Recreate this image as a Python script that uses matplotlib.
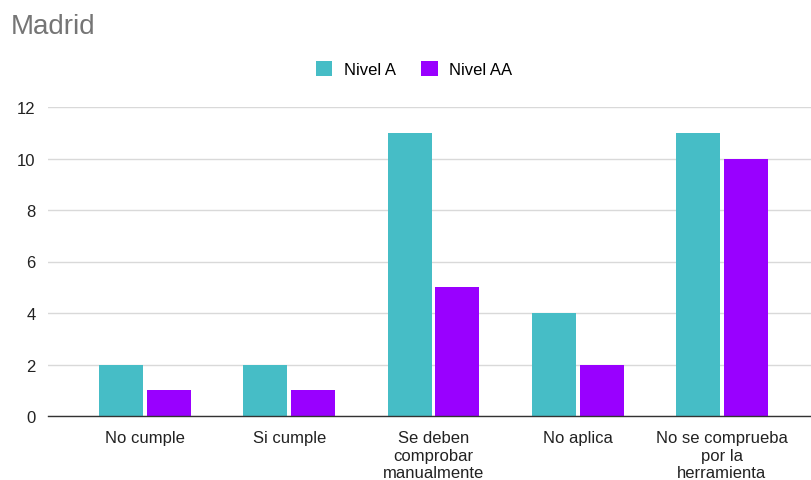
import matplotlib
matplotlib.use("Agg")
import matplotlib.pyplot as plt
import numpy as np

categories = ["No cumple", "Si cumple", "Se deben\ncomprobar\nmanualmente",
              "No aplica", "No se comprueba\npor la\nherramienta"]
nivel_a = [2, 2, 11, 4, 11]
nivel_aa = [1, 1, 5, 2, 10]
series_names = ["Nivel A", "Nivel AA"]
y_ticks = [0, 2, 4, 6, 8, 10, 12]

plt.rcParams['font.family'] = ['Liberation Sans', 'DejaVu Sans']

W, H = 812, 481
fig = plt.figure(figsize=(W / 100, H / 100), dpi=100)
ax = fig.add_axes([48 / W, (H - 417) / H, (812 - 48) / W, (417 - 108) / H])

x = np.arange(len(categories))
bw = 0.305
off = 0.165
teal = "#46BDC6"
purple = "#9900FF"
ax.bar(x - off, nivel_a, width=bw, color=teal, label=series_names[0], zorder=3)
ax.bar(x + off, nivel_aa, width=bw, color=purple, label=series_names[1], zorder=3)

ax.set_xlim(-0.672, 4.624)
ax.set_ylim(0, 12)
ax.set_yticks(y_ticks)
ax.set_yticklabels([str(t) for t in y_ticks], fontsize=12, color="#222222")
ax.set_xticks(x)
ax.set_xticklabels(categories, fontsize=12, color="#222222", linespacing=1.22)
ax.tick_params(axis='both', length=0)
ax.tick_params(axis='x', pad=10)
ax.tick_params(axis='y', pad=9)
ax.grid(axis='y', color="#d9d9d9", linewidth=1, zorder=0)
for s in ["top", "right", "left"]:
    ax.spines[s].set_visible(False)
ax.spines["bottom"].set_color("#333333")
ax.spines["bottom"].set_linewidth(1)
ax.spines["bottom"].set_zorder(4)

fig.text(11 / W, 1 - 27 / H, "Madrid", fontsize=20, color="#757575",
         ha="left", va="center")

fig.legend(loc="center", bbox_to_anchor=(414 / W, 1 - 70 / H), ncol=2,
           frameon=False, fontsize=12, handlelength=1.0, handleheight=1.0,
           handletextpad=0.7, columnspacing=1.5)

fig.savefig("out.png", dpi=100)
